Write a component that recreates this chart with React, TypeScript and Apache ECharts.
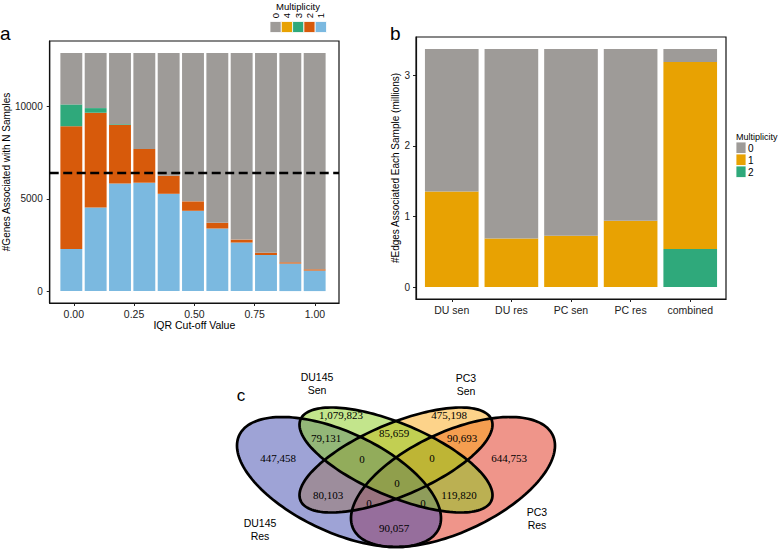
import React, { useEffect, useRef } from "react";
import * as echarts from "echarts";

// ---------- Panel a data ----------
const iqrCutoffs = [0, 0.1, 0.2, 0.3, 0.4, 0.5, 0.6, 0.7, 0.8, 0.9, 1.0];
const genesTotal = 12900;
const genesMult1 = [2280, 4530, 5830, 5870, 5270, 4350, 3390, 2630, 1960, 1490, 1110];
const genesMult2 = [6650, 5130, 3160, 1830, 980, 510, 310, 160, 110, 70, 70];
const genesMult3 = [1180, 250, 50, 0, 0, 0, 0, 0, 0, 0, 0];
const genesMult4 = [0, 0, 0, 0, 0, 0, 0, 0, 0, 0, 0];
const genesMult0 = iqrCutoffs.map(
  (_, i) => genesTotal - genesMult1[i] - genesMult2[i] - genesMult3[i] - genesMult4[i]
);
const genesThreshold = 6400;
const aXTicks = [0, 0.25, 0.5, 0.75, 1];
const aYTicks = [0, 5000, 10000];
const aLegendLabels = ["0", "4", "3", "2", "1"];

// ---------- Panel b data ----------
const samples = ["DU sen", "DU res", "PC sen", "PC res", "combined"];
const edgesTotal = 3.373;
const edgesMult1 = [1.354, 0.689, 0.726, 0.939, 2.651];
const edgesMult2 = [0, 0, 0, 0, 0.538];
const edgesMult0 = samples.map((_, i) => edgesTotal - edgesMult1[i] - edgesMult2[i]);
const bXTicks = [1, 2, 3, 4, 5];
const bYTicks = [0, 1, 2, 3];
const bLegendLabels = ["0", "1", "2"];

// ---------- Panel c data ----------
const vennSetNames = [["DU145", "Res"], ["DU145", "Sen"], ["PC3", "Sen"], ["PC3", "Res"]];
const vennRegions = ["A", "B", "C", "D", "AB", "BC", "CD", "AD", "AC", "BD", "ABC", "BCD", "ABD", "ACD", "ABCD"];
const vennCounts = [447458, 1079823, 475198, 644753, 79131, 85659, 90693, 90057, 80103, 119820, 0, 0, 0, 0, 0];

// ---------- styling / layout ----------
const GREY = "#9e9b98";
const YELLOW = "#e8a202";
const GREEN = "#2fa97b";
const ORANGE = "#d75a0b";
const BLUE = "#7bb9e0";
const SANS = "'Liberation Sans', Arial, sans-serif";
const SERIF = "'Liberation Serif', 'Times New Roman', serif";

const vennRegionPos: Record<string, [number, number]> = {
  A: [278, 458], B: [341, 415], C: [449, 415], D: [509, 458],
  AB: [326, 438], BC: [394, 433], CD: [462, 438], AD: [394, 528],
  AC: [328, 495], BD: [459, 495], ABC: [362, 459], BCD: [432, 458],
  ABD: [423, 503], ACD: [369, 503], ABCD: [397, 483],
};
const vennLabelPos: [number, number][] = [[260, 523], [317, 377], [466, 378], [537, 512]];

const vennEllipses = [
  { cx: 453, cy: 482, ex: 102, ey: 65, sxy: -3700, fill: "rgba(223,43,21,0.5)" },
  { cx: 396, cy: 460, ex: 96.5, ey: 52.5, sxy: -3400, fill: "rgba(251,167,21,0.5)" },
  { cx: 339, cy: 482, ex: 102, ey: 65, sxy: 3700, fill: "rgba(61,71,173,0.5)" },
  { cx: 396, cy: 460, ex: 96.5, ey: 52.5, sxy: 3400, fill: "rgba(135,203,25,0.5)" },
];

function ellipsePoints(cx: number, cy: number, ex: number, ey: number, sxy: number, n = 160) {
  const k = sxy / ex;
  const m = Math.sqrt(ey * ey - k * k);
  const pts: number[][] = [];
  for (let i = 0; i < n; i++) {
    const t = (2 * Math.PI * i) / n;
    pts.push([cx + ex * Math.cos(t), cy + k * Math.cos(t) + m * Math.sin(t)]);
  }
  return pts;
}

// panel frames (ggplot-style expanded ranges)
const A_FRAME = { left: 47, top: 41, width: 292, height: 262 };
const A_X = { min: -0.1, max: 1.1 };
const A_Y = { min: -645, max: 13545 };
const B_FRAME = { left: 416, top: 37, width: 310, height: 262 };
const B_X = { min: 0.4, max: 5.6 };
const B_Y = { min: -0.1687, max: 3.5417 };

export default function App() {
  const ref = useRef<HTMLDivElement>(null);
  useEffect(() => {
    const chart = echarts.init(ref.current!, null, { renderer: "svg", width: 780, height: 551 });

    const tickStyle = { show: true, length: 3, inside: false, lineStyle: { color: "#222", width: 1 } };
    const lineStyleAxis = { show: true, onZero: false, lineStyle: { color: "#111", width: 1.2 } };
    const labelBase = { color: "#222", fontSize: 10.5, fontFamily: SANS };

    const aPx = A_FRAME.width / (A_X.max - A_X.min);
    const aBand = 0.1 * aPx;
    const aBarGrid = {
      left: A_FRAME.left + (iqrCutoffs[0] - A_X.min) * aPx - aBand / 2,
      top: A_FRAME.top, width: aBand * iqrCutoffs.length, height: A_FRAME.height,
    };
    const bPx = B_FRAME.width / (B_X.max - B_X.min);
    const bBarGrid = {
      left: B_FRAME.left + (0.5 - B_X.min) * bPx,
      top: B_FRAME.top, width: bPx * samples.length, height: B_FRAME.height,
    };

    const aSeriesDefs = [
      { name: "1", data: genesMult1, color: BLUE },
      { name: "2", data: genesMult2, color: ORANGE },
      { name: "3", data: genesMult3, color: GREEN },
      { name: "4", data: genesMult4, color: YELLOW },
      { name: "0", data: genesMult0, color: GREY },
    ];
    const aSeries: any[] = aSeriesDefs.map((s) => ({
      type: "bar",
      name: "a" + s.name,
      xAxisIndex: 1,
      yAxisIndex: 1,
      stack: "genes",
      barCategoryGap: "10%",
      silent: true,
      itemStyle: { color: s.color },
      data: s.data,
    }));
    aSeries.push({
      type: "line",
      xAxisIndex: 0,
      yAxisIndex: 0,
      silent: true,
      symbol: "none",
      z: 10,
      lineStyle: { color: "#000", type: [9, 4.5], width: 2.5 },
      data: [[A_X.min, genesThreshold], [A_X.max, genesThreshold]],
    });

    const bSeriesDefs = [
      { name: "2", data: edgesMult2, color: GREEN },
      { name: "1", data: edgesMult1, color: YELLOW },
      { name: "0", data: edgesMult0, color: GREY },
    ];
    const bSeries: any[] = bSeriesDefs.map((s) => ({
      type: "bar",
      name: "b" + s.name,
      xAxisIndex: 3,
      yAxisIndex: 3,
      stack: "edges",
      barCategoryGap: "10%",
      silent: true,
      itemStyle: { color: s.color },
      data: s.data,
    }));

    const graphics: any[] = [];
    graphics.push({ type: "text", x: 0, y: 43, style: { text: "a", fontSize: 19, fontFamily: SANS, fill: "#000", verticalAlign: "bottom" } });
    graphics.push({ type: "text", x: 390, y: 43, style: { text: "b", fontSize: 19, fontFamily: SANS, fill: "#000", verticalAlign: "bottom" } });
    graphics.push({ type: "text", x: 241, y: 395, style: { text: "c", fontSize: 17, fontFamily: SANS, fill: "#000", align: "center", verticalAlign: "middle" } });

    const aLegColors = [GREY, YELLOW, GREEN, ORANGE, BLUE];
    graphics.push({ type: "text", x: 298, y: 6, style: { text: "Multiplicity", fontSize: 9.5, fontFamily: SANS, fill: "#000", align: "center", verticalAlign: "middle" } });
    aLegendLabels.forEach((lab, i) => {
      const x0 = 270 + i * 11.3;
      graphics.push({ type: "rect", shape: { x: x0, y: 21.5, width: 11.3, height: 11 }, style: { fill: aLegColors[i], stroke: "#fff", lineWidth: 0.8 } });
      graphics.push({ type: "text", x: x0 + 5.65, y: 15.5, rotation: Math.PI / 2, style: { text: lab, fontSize: 9.5, fontFamily: SANS, fill: "#000", align: "center", verticalAlign: "middle" } });
    });

    const bLegColors = [GREY, YELLOW, GREEN];
    graphics.push({ type: "text", x: 736, y: 137, style: { text: "Multiplicity", fontSize: 9, fontFamily: SANS, fill: "#000", verticalAlign: "middle" } });
    bLegendLabels.forEach((lab, i) => {
      const y0 = 142 + i * 12;
      graphics.push({ type: "rect", shape: { x: 736, y: y0, width: 10, height: 11.5 }, style: { fill: bLegColors[i], stroke: "#fff", lineWidth: 0.8 } });
      graphics.push({ type: "text", x: 748, y: y0 + 6, style: { text: lab, fontSize: 10, fontFamily: SANS, fill: "#000", verticalAlign: "middle" } });
    });

    vennEllipses.forEach((e) => {
      graphics.push({ type: "polygon", shape: { points: ellipsePoints(e.cx, e.cy, e.ex, e.ey, e.sxy) }, style: { fill: e.fill, stroke: "none" }, z: 10 });
    });
    vennEllipses.forEach((e) => {
      graphics.push({ type: "polygon", shape: { points: ellipsePoints(e.cx, e.cy, e.ex, e.ey, e.sxy) }, style: { fill: "none", stroke: "#000", lineWidth: 2.7 }, z: 11 });
    });
    vennRegions.forEach((r, i) => {
      const [x, y] = vennRegionPos[r];
      graphics.push({ type: "text", x, y, z: 12, style: { text: vennCounts[i].toLocaleString("en-US"), fontSize: 11, fontFamily: SERIF, fill: "#000", align: "center", verticalAlign: "middle" } });
    });
    vennSetNames.forEach((nm, i) => {
      const [x, y] = vennLabelPos[i];
      graphics.push({ type: "text", x, y, z: 12, style: { text: nm[0], fontSize: 10.5, fontFamily: SANS, fill: "#000", align: "center", verticalAlign: "middle" } });
      graphics.push({ type: "text", x, y: y + 13, z: 12, style: { text: nm[1], fontSize: 10.5, fontFamily: SANS, fill: "#000", align: "center", verticalAlign: "middle" } });
    });

    const hiddenAxis = { axisLine: { show: false }, axisTick: { show: false }, axisLabel: { show: false }, splitLine: { show: false } };

    const option: any = {
      animation: false,
      textStyle: { fontFamily: SANS },
      grid: [
        { ...A_FRAME, show: true, borderColor: "#111", borderWidth: 1.2, backgroundColor: "transparent", z: 3 },
        { ...aBarGrid, show: false },
        { ...B_FRAME, show: true, borderColor: "#111", borderWidth: 1.2, backgroundColor: "transparent", z: 3 },
        { ...bBarGrid, show: false },
      ],
      xAxis: [
        {
          type: "value", gridIndex: 0, position: "bottom", min: A_X.min, max: A_X.max,
          axisLine: lineStyleAxis, splitLine: { show: false },
          axisTick: { ...tickStyle, customValues: aXTicks },
          axisLabel: { ...labelBase, margin: 5, customValues: aXTicks, formatter: (v: number) => v.toFixed(2) },
          name: "IQR Cut-off Value", nameLocation: "middle", nameGap: 14,
          nameTextStyle: { color: "#000", fontSize: 10.5, fontFamily: SANS },
        },
        { type: "category", gridIndex: 1, position: "bottom", data: iqrCutoffs.map(String), ...hiddenAxis },
        {
          type: "value", gridIndex: 2, position: "bottom", min: B_X.min, max: B_X.max,
          axisLine: lineStyleAxis, splitLine: { show: false },
          axisTick: { ...tickStyle, customValues: bXTicks },
          axisLabel: { ...labelBase, margin: 5, customValues: bXTicks, formatter: (v: number) => samples[Math.round(v) - 1] },
        },
        { type: "category", gridIndex: 3, position: "bottom", data: samples, ...hiddenAxis },
      ],
      yAxis: [
        {
          type: "value", gridIndex: 0, min: A_Y.min, max: A_Y.max,
          axisLine: lineStyleAxis, splitLine: { show: false },
          axisTick: { ...tickStyle, customValues: aYTicks },
          axisLabel: { ...labelBase, fontSize: 10, margin: 7, customValues: aYTicks, formatter: (v: number) => String(v) },
          name: "#Genes Associated with N Samples", nameLocation: "middle", nameGap: 33,
          nameTextStyle: { color: "#000", fontSize: 10, fontFamily: SANS },
        },
        { type: "value", gridIndex: 1, min: A_Y.min, max: A_Y.max, ...hiddenAxis },
        {
          type: "value", gridIndex: 2, min: B_Y.min, max: B_Y.max,
          axisLine: lineStyleAxis, splitLine: { show: false },
          axisTick: { ...tickStyle, customValues: bYTicks },
          axisLabel: { ...labelBase, fontSize: 10, margin: 6, customValues: bYTicks, formatter: (v: number) => String(v) },
          name: "#Edges Associated Each Sample (millions)", nameLocation: "middle", nameGap: 14,
          nameTextStyle: { color: "#000", fontSize: 10, fontFamily: SANS },
        },
        { type: "value", gridIndex: 3, min: B_Y.min, max: B_Y.max, ...hiddenAxis },
      ],
      series: [...aSeries, ...bSeries],
      graphic: graphics,
    };
    chart.setOption(option);
    return () => chart.dispose();
  }, []);
  return <div ref={ref} style={{ position: "absolute", left: 0, top: 0, width: 780, height: 551 }} />;
}
